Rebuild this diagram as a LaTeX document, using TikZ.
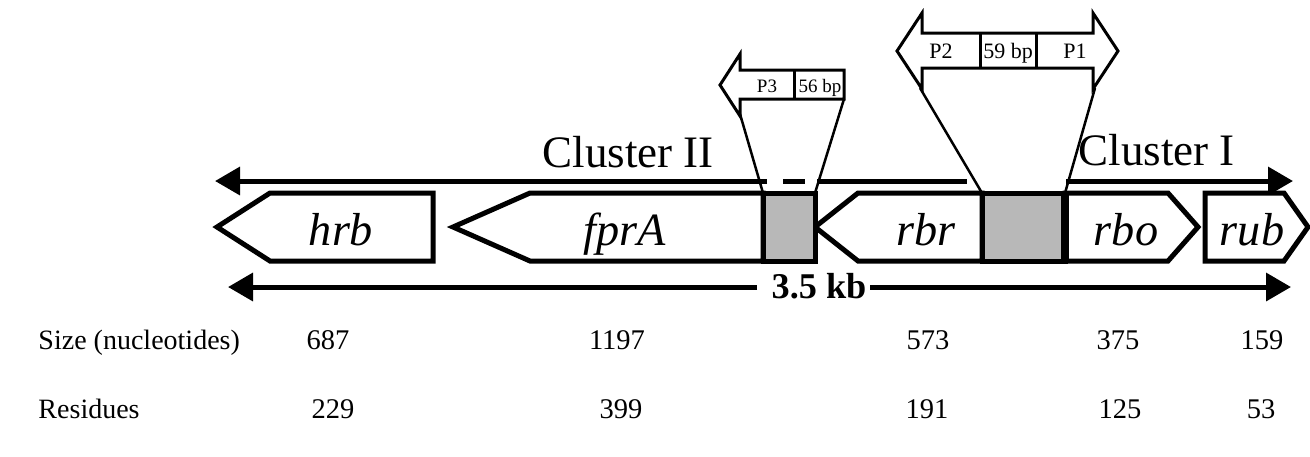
\documentclass[tikz,border=0pt]{standalone}
\usepackage{fontspec}
\setmainfont{Liberation Serif}
\usetikzlibrary{arrows.meta}
\tikzset{
  gene/.style={draw, line width=2pt, fill=white, line join=miter},
  spacer/.style={draw, line width=2pt, fill=black!28},
  promo/.style={draw, line width=1.2pt, fill=white, line join=miter},
  axisline/.style={line width=2pt},
  tipped/.style={axisline, -{Triangle[length=10pt,width=11pt]}},
  guide/.style={line width=1pt},
  genelabel/.style={anchor=base, font=\fontsize{18.5}{20}\selectfont\itshape},
  clusterlabel/.style={anchor=base west, inner sep=0pt, font=\fontsize{18}{20}\selectfont},
  plabel/.style={anchor=base, font=\fontsize{8.8}{9}\selectfont, inner sep=0pt},
  psmall/.style={plabel, font=\fontsize{7.6}{8}\selectfont},
  tablabel/.style={anchor=base west, font=\fontsize{11.2}{12}\selectfont, inner sep=0pt},
  tabnum/.style={anchor=base, font=\fontsize{11.4}{12}\selectfont, inner sep=0pt}
}
\begin{document}
\begin{tikzpicture}[x=0.4pt,y=-0.4pt]
\useasboundingbox (0,0) rectangle (1310,456);

% --- cluster axis (top) ---
\coordinate (c2tip) at (215,181);
\coordinate (c2a) at (767,181);
\coordinate (c2b) at (783,181);
\coordinate (c2c) at (805,181);
\coordinate (c2d) at (817,181);
\coordinate (c2end) at (967,181);
\coordinate (c1start) at (1066,181);
\coordinate (c1tip) at (1293,181);
\draw[tipped] (c2a) -- (c2tip);
\draw[axisline] (c2b) -- (c2c);
\draw[axisline] (c2d) -- (c2end);
\draw[tipped] (c1start) -- (c1tip);
\node[clusterlabel] (cl2) at (542,167) {Cluster II};
\node[clusterlabel] (cl1) at (1078,165) {Cluster I};

% --- promoter regions ---
\draw[promo] (844,70) -- (740,70) -- (740,54) -- (720,85) -- (740,116)
  -- (740,99) -- (844,99) -- cycle;
\draw[promo] (794,70) -- (794,99);
\node[psmall] (p3) at (767,92) {P3};
\node[psmall] (bp56) at (820,92) {56 bp};

\draw[promo] (922,33) -- (922,13) -- (897,51) -- (922,89) -- (922,68)
  -- (1093,68) -- (1093,89) -- (1118,51) -- (1093,13) -- (1093,33) -- cycle;
\draw[promo] (980,33) -- (980,68);
\draw[promo] (1036,33) -- (1036,68);
\node[plabel] (p2) at (941,58) {P2};
\node[plabel] (bp59) at (1008,58) {59 bp};
\node[plabel] (p1) at (1075,58) {P1};

% expansion guides from promoter boxes to intergenic spacers
\coordinate (p3l) at (740,114);
\coordinate (p3r) at (844,99);
\coordinate (p21) at (920,88);
\coordinate (p12) at (1095,88);
\coordinate (s1l) at (763,193);
\coordinate (s1r) at (815,193);
\coordinate (s2l) at (982,193);
\coordinate (s2r) at (1065,193);
\draw[guide] (p3l) -- (s1l);
\draw[guide] (p3r) -- (s1r);
\draw[guide] (p21) -- (s2l);
\draw[guide] (p12) -- (s2r);

% --- genes ---
\draw[gene] (217,227) -- (270,193) -- (433,193) -- (433,261) -- (270,261) -- cycle;
\draw[gene] (453,227) -- (530,193) -- (763,193) -- (763,261) -- (530,261) -- cycle;
\draw[gene] (815,227) -- (858,193) -- (982,193) -- (982,261) -- (858,261) -- cycle;
\draw[gene] (1065,193) -- (1168,193) -- (1198,227) -- (1168,261) -- (1065,261) -- cycle;
\draw[gene] (1205,193) -- (1284,193) -- (1308,227) -- (1284,261) -- (1205,261) -- cycle;
\draw[spacer] (763,193) rectangle (815,261);
\draw[spacer] (982,193) rectangle (1065,261);
\draw[line width=3pt] (1065,193) -- (1065,261);

\node[genelabel] (hrb) at (341,245) {hrb};
\node[genelabel] (fprA) at (625,245) {fprA};
\node[genelabel] (rbr) at (926,245) {rbr};
\node[genelabel] (rbo) at (1126,245) {rbo};
\node[genelabel] (rub) at (1252,245) {rub};

% --- scale bar ---
\node[anchor=base, font=\fontsize{14.5}{16}\selectfont\bfseries, inner sep=0pt] (kb) at (819,298) {3.5 kb};
\coordinate (kbL) at (757,287);
\coordinate (kbR) at (870,287);
\coordinate (kbLtip) at (228,287);
\coordinate (kbRtip) at (1291,287);
\draw[tipped] (kbL) -- (kbLtip);
\draw[tipped] (kbR) -- (kbRtip);

% --- table ---
\node[tablabel] (size) at (38,349) {Size (nucleotides)};
\node[tablabel] (res) at (38,418) {Residues};
\node[tabnum] (s1) at (328,349) {687};
\node[tabnum] (s2) at (617,349) {1197};
\node[tabnum] (s3) at (928,349) {573};
\node[tabnum] (s4) at (1118,349) {375};
\node[tabnum] (s5) at (1262,349) {159};
\node[tabnum] (r1) at (333,418) {229};
\node[tabnum] (r2) at (621,418) {399};
\node[tabnum] (r3) at (927,418) {191};
\node[tabnum] (r4) at (1120,418) {125};
\node[tabnum] (r5) at (1261,418) {53};
\end{tikzpicture}
\end{document}
